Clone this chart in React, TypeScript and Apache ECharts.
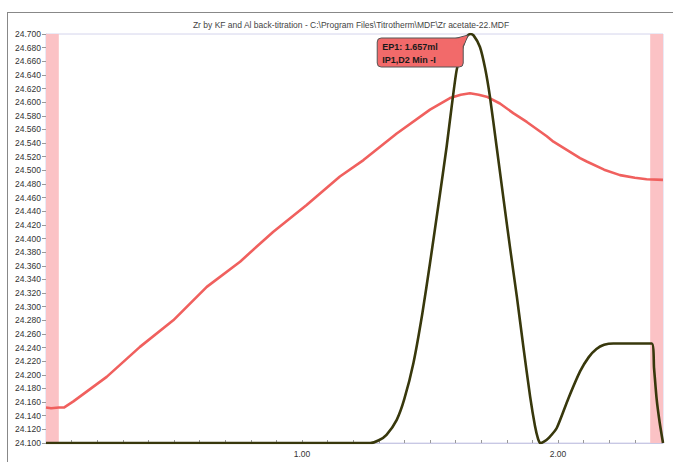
import React, { useEffect, useRef } from "react";
import * as echarts from "echarts";

const chartTitle =
  "Zr by KF and Al back-titration - C:\\Program Files\\Titrotherm\\MDF\\Zr acetate-22.MDF";

// Temperature curve (red)
const tempX = [0, 0.02, 0.05, 0.07, 0.107, 0.237, 0.367, 0.497, 0.628, 0.758, 0.888, 1.018, 1.148, 1.24, 1.37, 1.5, 1.578, 1.62, 1.656, 1.69, 1.721, 1.773, 1.825, 1.878, 1.956, 1.982, 2.086, 2.112, 2.18, 2.242, 2.3, 2.346, 2.41];
const tempY = [24.152, 24.151, 24.152, 24.152, 24.161, 24.197, 24.241, 24.28, 24.329, 24.366, 24.41, 24.449, 24.491, 24.515, 24.554, 24.589, 24.606, 24.611, 24.613, 24.611, 24.608, 24.598, 24.584, 24.571, 24.55, 24.542, 24.518, 24.513, 24.501, 24.493, 24.489, 24.487, 24.486];

// Second derivative curve (dark)
const derivX = [0, 1.266, 1.3, 1.33, 1.37, 1.4, 1.435, 1.47, 1.5, 1.535, 1.565, 1.585, 1.604, 1.63, 1.645, 1.657, 1.67, 1.695, 1.715, 1.734, 1.76, 1.786, 1.812, 1.839, 1.865, 1.891, 1.91, 1.922, 1.93, 1.945, 1.965, 1.995, 2.04, 2.086, 2.12, 2.15, 2.18, 2.216, 2.366, 2.375, 2.385, 2.397, 2.41];
const derivY = [24.1, 24.1, 24.104, 24.112, 24.134, 24.165, 24.217, 24.29, 24.364, 24.455, 24.535, 24.595, 24.647, 24.686, 24.697, 24.7, 24.698, 24.681, 24.65, 24.608, 24.535, 24.461, 24.388, 24.315, 24.24, 24.168, 24.125, 24.106, 24.1, 24.102, 24.108, 24.122, 24.165, 24.205, 24.226, 24.238, 24.244, 24.246, 24.246, 24.21, 24.165, 24.13, 24.1];

// Pink end bands (x ranges)
const endpointBands = [
  [0, 0.05],
  [2.36, 2.41],
];

const yTickLabels = { min: 24.1, max: 24.7, step: 0.02 };
const xRange = { min: 0, max: 2.41, step: 0.1 };

const epVolume = 1.657;
const epPeak = 24.7;
const epLines = ["EP1: 1.657ml", "IP1,D2 Min -I"];

export default function App() {
  const ref = useRef<HTMLDivElement>(null);
  useEffect(() => {
    if (!ref.current) return;
    const chart = echarts.init(ref.current, undefined, { renderer: "svg" });
    const font = "Liberation Sans, Arial, sans-serif";
    chart.setOption({
      animation: false,
      backgroundColor: "#ffffff",
      title: {
        text: chartTitle,
        left: 346,
        textAlign: "center",
        top: 15,
        textStyle: { fontSize: 8.5, fontWeight: "normal", color: "#444", fontFamily: font },
      },
      grid: {
        left: 46,
        top: 34,
        right: 10,
        bottom: 19,
        show: true,
        borderColor: "#d4d4ec",
        borderWidth: 1,
      },
      xAxis: {
        type: "value",
        min: xRange.min,
        max: xRange.max,
        interval: xRange.step,
        axisLine: { show: true, lineStyle: { color: "#c8c8e4", width: 1 } },
        axisTick: { show: true, inside: true, length: 3, lineStyle: { color: "#999" } },
        splitLine: { show: false },
        axisLabel: {
          margin: 6,
          fontSize: 8.5,
          color: "#333",
          fontFamily: font,
          showMinLabel: true,
          showMaxLabel: true,
          formatter: (v: number) =>
            v > 0.5 && Math.abs(v - Math.round(v)) < 1e-6 ? v.toFixed(2) : "",
        },
      },
      yAxis: {
        type: "value",
        min: yTickLabels.min,
        max: yTickLabels.max,
        interval: yTickLabels.step,
        axisLine: { show: true, lineStyle: { color: "#d4d4ec" } },
        axisTick: { show: true, length: 4, lineStyle: { color: "#999" } },
        splitLine: { show: false },
        axisLabel: {
          margin: 5,
          fontSize: 8.5,
          color: "#333",
          fontFamily: font,
          formatter: (v: number) => v.toFixed(3),
        },
      },
      series: [
        {
          type: "line",
          data: [],
          z: 1,
          markArea: {
            silent: true,
            itemStyle: { color: "#fbc2c5", opacity: 1 },
            data: endpointBands.map((b) => [{ xAxis: b[0] }, { xAxis: b[1] }]),
          },
        },
        {
          type: "line",
          data: tempX.map((x, i) => [x, tempY[i]]),
          showSymbol: false,
          smooth: false,
          z: 3,
          lineStyle: { color: "#f0605e", width: 2.6, join: "round" },
        },
        {
          type: "line",
          data: derivX.map((x, i) => [x, derivY[i]]),
          showSymbol: false,
          smooth: 0.2,
          z: 4,
          lineStyle: { color: "#38380c", width: 2.6, join: "round" },
        },
      ],
    });

    const [px, py] = chart.convertToPixel({ gridIndex: 0 }, [epVolume, epPeak]) as number[];
    const bw = 86;
    const bh = 29;
    const bx = px - 7 - bw;
    const by = py + 4;
    chart.setOption({
      graphic: [
        { type: "line", shape: { x1: 7.5, y1: 12, x2: 7.5, y2: 462 }, style: { stroke: "#888", lineWidth: 1 } },
        { type: "line", shape: { x1: 7.5, y1: 12.5, x2: 673, y2: 12.5 }, style: { stroke: "#888", lineWidth: 1 } },
        {
          type: "polygon",
          z: 100,
          shape: { points: [[bx + bw - 10, by + 1], [px - 2, py + 1], [bx + bw, by + 9]] },
          style: { fill: "#f26a6a", stroke: "#555", lineWidth: 1 },
        },
        {
          type: "rect",
          z: 101,
          shape: { x: bx, y: by, width: bw, height: bh, r: 4 },
          style: { fill: "#f26a6a", stroke: "#555", lineWidth: 1 },
        },
        {
          type: "polygon",
          z: 102,
          shape: { points: [[bx + bw - 9, by + 1.5], [px - 3, py + 2], [bx + bw - 0.5, by + 8]] },
          style: { fill: "#f26a6a", stroke: "none" },
        },
        {
          type: "text",
          z: 103,
          x: bx + 5,
          y: by + 8.5,
          style: { text: epLines[0], fill: "#1a1a1a", font: `bold 9px ${font}`, verticalAlign: "middle" },
        },
        {
          type: "text",
          z: 103,
          x: bx + 5,
          y: by + 22,
          style: { text: epLines[1], fill: "#1a1a1a", font: `bold 9px ${font}`, verticalAlign: "middle" },
        },
      ],
    });
    return () => chart.dispose();
  }, []);
  return (
    <div
      ref={ref}
      style={{ position: "absolute", left: 0, top: 0, width: 673, height: 462 }}
    />
  );
}
